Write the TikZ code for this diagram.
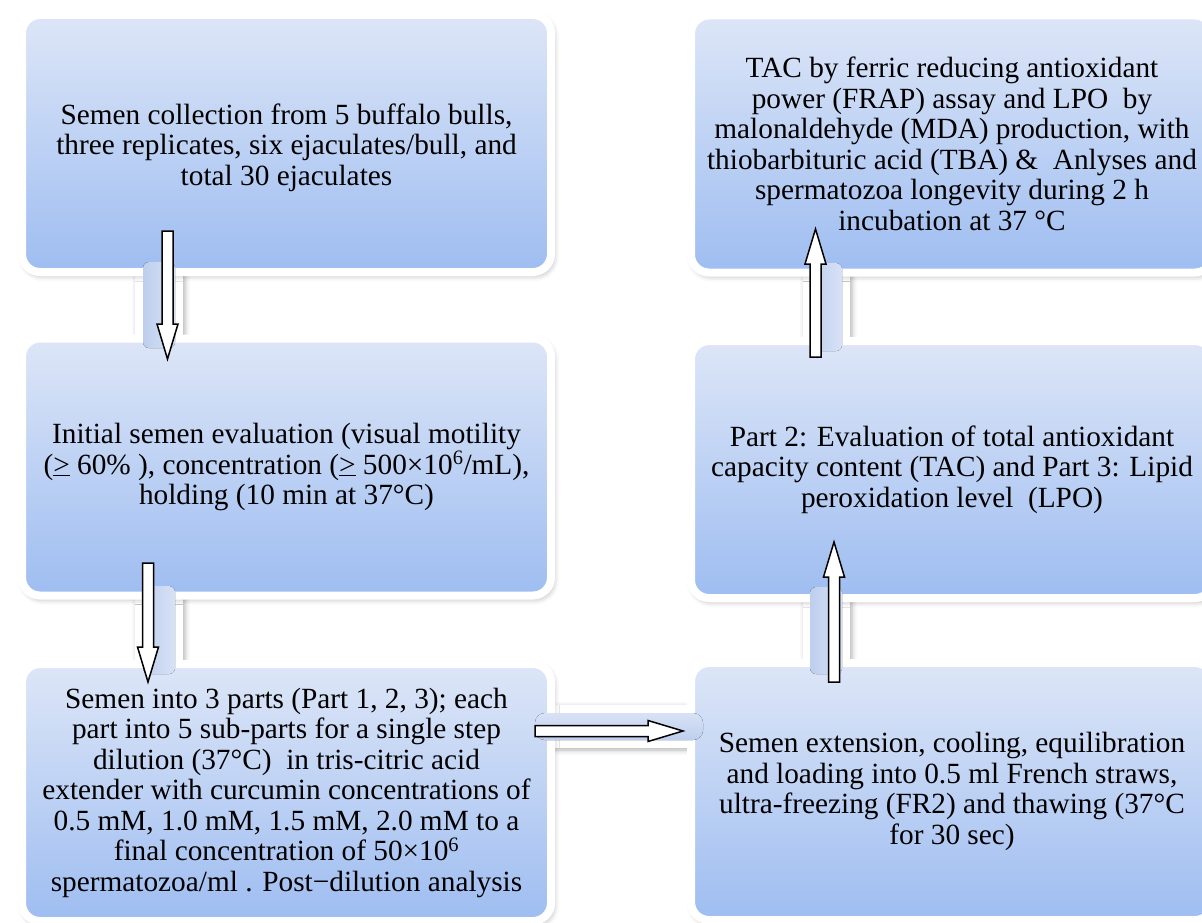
\documentclass[tikz,border=0pt]{standalone}
\usepackage{fontspec}
\setmainfont{Liberation Serif}
\usetikzlibrary{calc,shadows.blur}

\definecolor{boxtop}{RGB}{221,230,247}
\definecolor{boxbottom}{RGB}{158,189,241}
\definecolor{barlight}{RGB}{216,226,246}
\definecolor{bardark}{RGB}{190,206,238}

\tikzset{
  stepbox/.style={draw=white, line width=8pt, rounded corners=18pt,
    top color=boxtop, bottom color=boxbottom, inner sep=0pt, outer sep=0pt,
    blur shadow={shadow xshift=2pt, shadow yshift=-3pt, shadow blur radius=6pt, shadow opacity=35},
    align=center, font=\fontsize{29.3}{30.5}\selectfont},
  leftbox/.style={stepbox, minimum width=529pt, minimum height=257pt},
  rightbox/.style={stepbox, minimum width=522pt, minimum height=257pt},
  neck/.style={white, blur shadow={shadow xshift=2pt, shadow yshift=-2pt, shadow blur radius=5pt, shadow opacity=30}},
  vbar/.style={left color=bardark, right color=barlight, rounded corners=6pt},
  hbar/.style={top color=barlight, bottom color=bardark, rounded corners=10pt},
  arrowline/.style={draw=black, fill=white, line width=1.5pt, line join=miter}
}

% hollow block arrow from #1 to #2
\newcommand{\blockarrow}[2]{%
  \coordinate (hb) at ($(#2)!35pt!(#1)$);
  \draw [arrowline] ($(#1)!5.5pt!90:(#2)$) -- ($(hb)!5.5pt!90:(#2)$)
    -- ($(hb)!10.5pt!90:(#2)$) -- (#2) -- ($(hb)!10.5pt!-90:(#2)$)
    -- ($(hb)!5.5pt!-90:(#2)$) -- ($(#1)!5.5pt!-90:(#2)$) -- cycle;}
% lower a line of text, keeping its height and depth
\newcommand{\dnline}[1]{\raisebox{-4pt}[\height][\depth]{#1}}

\begin{document}
\begin{tikzpicture}[x=1pt,y=-1pt]
\useasboundingbox (0,0) rectangle (1202,923);
\clip (0,0) rectangle (1202,923);
% white necks between the steps
\fill [neck] (135,270) rectangle (183,340);
\fill [neck] (135,594) rectangle (183,666);
\fill [neck] (803,271) rectangle (850,343);
\fill [neck] (803,595) rectangle (850,666);
\fill [neck] (549,705) rectangle (693,748);
% steps
\node [leftbox] (collect) at (286.5,143.5) {\dnline{Semen collection from 5 buffalo bulls,}\\\dnline{three replicates, six ejaculates/bull, and}\\\dnline{total 30 ejaculates}};
\node [leftbox] (evaluate) at (286.5,467) {Initial semen evaluation (visual motility\\(\underline{>} 60\% ), concentration (\underline{>} 500×10\textsuperscript{6}/mL),\\holding (10 min at 37°C)};
\node [leftbox] (dilute) at (286.5,792.5) {Semen into 3 parts (Part 1, 2, 3); each\\part into 5 sub-parts for a single step\\dilution (37°C)~ in tris-citric acid\\extender with curcumin concentrations of\\0.5 mM, 1.0 mM, 1.5 mM, 2.0 mM to a\\final concentration of 50×10\textsuperscript{6}\\spermatozoa/ml . Post−dilution analysis};
\node [rightbox] (freeze) at (952,791.5) {Semen extension, cooling, equilibration\\and loading into 0.5 ml French straws,\\ultra-freezing (FR2) and thawing (37°C\\for 30 sec)};
\node [rightbox] (assess) at (952,469.5) {Part 2: Evaluation of total antioxidant\\capacity content (TAC) and Part 3: Lipid\\peroxidation level~ (LPO)};
\node [rightbox] (assay) at (952,144) {TAC by ferric reducing antioxidant\\power (FRAP) assay and LPO~ by\\malonaldehyde (MDA) production, with\\thiobarbituric acid (TBA) \&~ Anlyses and\\spermatozoa longevity during 2 h\\incubation at 37 °C};
% bars
\fill [vbar] (143,262) rectangle (175,348);
\fill [vbar] (143,586) rectangle (175,674);
\fill [vbar] (810,263) rectangle (842,351);
\fill [vbar] (810,587) rectangle (842,674);
\fill [hbar] (535,713) rectangle (703,740);
% arrows
\coordinate (a1s) at (167.5,231);
\coordinate (a1e) at (167.5,359);
\coordinate (a2s) at (148,563);
\coordinate (a2e) at (148,682);
\coordinate (a3s) at (535,731);
\coordinate (a3e) at (683,731);
\coordinate (a4s) at (834,682);
\coordinate (a4e) at (834,542);
\coordinate (a5s) at (815.5,357);
\coordinate (a5e) at (815.5,229);
\blockarrow{a1s}{a1e}
\blockarrow{a2s}{a2e}
\blockarrow{a3s}{a3e}
\blockarrow{a4s}{a4e}
\blockarrow{a5s}{a5e}
\end{tikzpicture}
\end{document}
